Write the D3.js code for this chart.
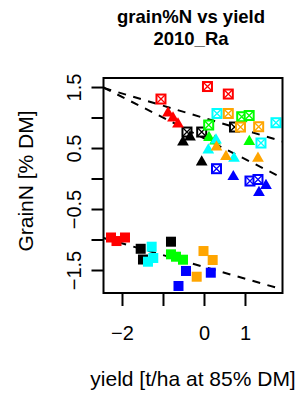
<!DOCTYPE html>
<html><head><meta charset="utf-8">
<script src="https://cdn.jsdelivr.net/npm/d3@7"></script>
<style>
html,body{margin:0;padding:0;background:#fff;}
text{font-family:"Liberation Sans",Arial,Helvetica,sans-serif;}
</style></head>
<body><svg id="c" width="299" height="394"></svg>
<script>
// ---- data ----
const groups = ["red","black","green","cyan","orange","blue"];
const colors = ["#FF0000","#000000","#00FF00","#00FFFF","#FFA500","#0000FF"];
// crossed squares (upper cloud)
const boxX = {red:[-1.049,0.085,0.593], black:[-0.415,-0.056,0.744], green:[0.115,0.920,1.102],
  cyan:[0.317,1.756,1.390], orange:[0.593,0.890,1.334], blue:[0.305,1.122,1.317]};
const boxY = {red:[1.303,1.508,1.385], black:[0.762,0.762,0.844], green:[0.877,1.013,1.033],
  cyan:[1.066,0.915,0.582], orange:[1.066,0.844,0.849], blue:[0.161,-0.041,-0.016]};
// filled triangles
const triX = {red:[-0.878,-0.756,-0.634], black:[-0.512,-0.341,-0.056], green:[0.122,0.268,1.105],
  cyan:[0.293,0.105,0.732], orange:[0.305,0.537,1.317], blue:[0.715,1.512,1.341]};
const triY = {red:[1.074,0.992,0.893], black:[0.598,0.680,0.270], green:[0.672,0.615,0.607],
  cyan:[0.631,0.467,0.331], orange:[0.516,0.361,0.331], blue:[0.030,-0.115,-0.230]};
// filled squares (lower cloud)
const sqX = {red:[-2.268,-2.134,-1.927], black:[-1.544,-1.488,-0.805], green:[-0.805,-0.683,-0.512],
  cyan:[-1.276,-1.237,-1.366], orange:[-0.012,0.212,-0.178], blue:[-0.439,0.166,-0.622]};
const sqY = {red:[-0.967,-1.025,-0.967], black:[-1.152,-1.328,-1.036], green:[-1.243,-1.282,-1.331],
  cyan:[-1.118,-1.303,-1.364], orange:[-1.189,-1.336,-1.610], blue:[-1.516,-1.544,-1.762]};
// fitted lines: [intercept, slope]
const fitIntercepts = [0.993, 0.659, -1.449];
const fitSlopes = [-0.201, -0.340, -0.193];
const xTicks = [-2,-1,0,1];
const xTickLabels = ["\u22122","","0","1"];
const yTicks = [-1.5,-1,-0.5,0,0.5,1,1.5];
const yTickLabels = ["\u22121.5","","\u22120.5","","0.5","","1.5"];
const xDomain = [-2.451, 1.915];
const yDomain = [-1.877, 1.648];

// ---- drawing ----
const svg = d3.select("#c");
const L=103.5, R=282.5, T=78, B=293;
const x = d3.scaleLinear().domain(xDomain).range([L,R]);
const y = d3.scaleLinear().domain(yDomain).range([B,T]);

svg.append("defs").append("clipPath").attr("id","clip")
  .append("rect").attr("x",L).attr("y",T).attr("width",R-L).attr("height",B-T);
const plot = svg.append("g").attr("clip-path","url(#clip)");

// lines
fitIntercepts.forEach((a,i)=>{
  const b = fitSlopes[i];
  plot.append("line")
    .attr("x1",x(xDomain[0])).attr("y1",y(a+b*xDomain[0]))
    .attr("x2",x(xDomain[1])).attr("y2",y(a+b*xDomain[1]))
    .attr("stroke","#000").attr("stroke-width",2).attr("stroke-dasharray","8,7.5");
});

const ptsOf = (X,Y)=>groups.flatMap((g,gi)=>X[g].map((v,k)=>({x:v,y:Y[g][k],c:colors[gi]})));

// filled squares
plot.selectAll(".sq").data(ptsOf(sqX,sqY)).enter().append("rect")
  .attr("x",d=>x(d.x)-5).attr("y",d=>y(d.y)-5).attr("width",10).attr("height",10)
  .attr("fill",d=>d.c);

// crossed squares
const bx = plot.selectAll(".bx").data(ptsOf(boxX,boxY)).enter().append("g")
  .attr("transform",d=>`translate(${x(d.x)},${y(d.y)})`);
bx.append("rect").attr("x",-4.5).attr("y",-4.5).attr("width",9).attr("height",9)
  .attr("fill","#fff").attr("stroke",d=>d.c).attr("stroke-width",2);
bx.append("path").attr("d","M-4.5,-4.5L4.5,4.5M-4.5,4.5L4.5,-4.5")
  .attr("stroke",d=>d.c).attr("stroke-width",1.3).attr("fill","none");

// triangles
const tri = d3.symbol().type(d3.symbolTriangle).size(60);
plot.selectAll(".tr").data(ptsOf(triX,triY)).enter().append("path")
  .attr("d",tri).attr("transform",d=>`translate(${x(d.x)},${y(d.y)})`)
  .attr("fill",d=>d.c);

// frame
svg.append("rect").attr("x",L).attr("y",T).attr("width",R-L).attr("height",B-T)
  .attr("fill","none").attr("stroke","#000").attr("stroke-width",2);

// x axis
const xa = svg.append("g").attr("transform",`translate(0,${B})`)
  .call(d3.axisBottom(x).tickValues(xTicks).tickSize(13).tickFormat((d,i)=>xTickLabels[i]));
xa.select(".domain").remove();
xa.selectAll("line").attr("stroke","#000").attr("stroke-width",2);
xa.selectAll("text").attr("font-size",20).attr("fill","#000").attr("dy",null).attr("y",null)
  .attr("transform","translate(0,47)").attr("dominant-baseline","auto").attr("font-family","Liberation Sans, Arial, sans-serif");

// y axis
const ya = svg.append("g").attr("transform",`translate(${L},0)`)
  .call(d3.axisLeft(y).tickValues(yTicks).tickSize(12).tickFormat((d,i)=>yTickLabels[i]));
ya.select(".domain").remove();
ya.selectAll("line").attr("stroke","#000").attr("stroke-width",2);
ya.selectAll("text").attr("font-size",20).attr("fill","#000").attr("x",null).attr("dy",null)
  .attr("text-anchor","middle").attr("transform","translate(-23,0) rotate(-90)")
  .attr("font-family","Liberation Sans, Arial, sans-serif");

// titles
svg.append("text").attr("x",191).attr("y",23).attr("text-anchor","middle")
  .attr("font-size",18.5).attr("font-weight","bold").text("grain%N vs yield");
svg.append("text").attr("x",191).attr("y",44.5).attr("text-anchor","middle")
  .attr("font-size",18.5).attr("font-weight","bold").text("2010_Ra");
svg.append("text").attr("x",193).attr("y",386).attr("text-anchor","middle")
  .attr("font-size",21).text("yield [t/ha at 85% DM]");
svg.append("text").attr("transform","translate(33,181) rotate(-90)").attr("text-anchor","middle")
  .attr("font-size",21).text("GrainN [% DM]");
</script></body></html>
